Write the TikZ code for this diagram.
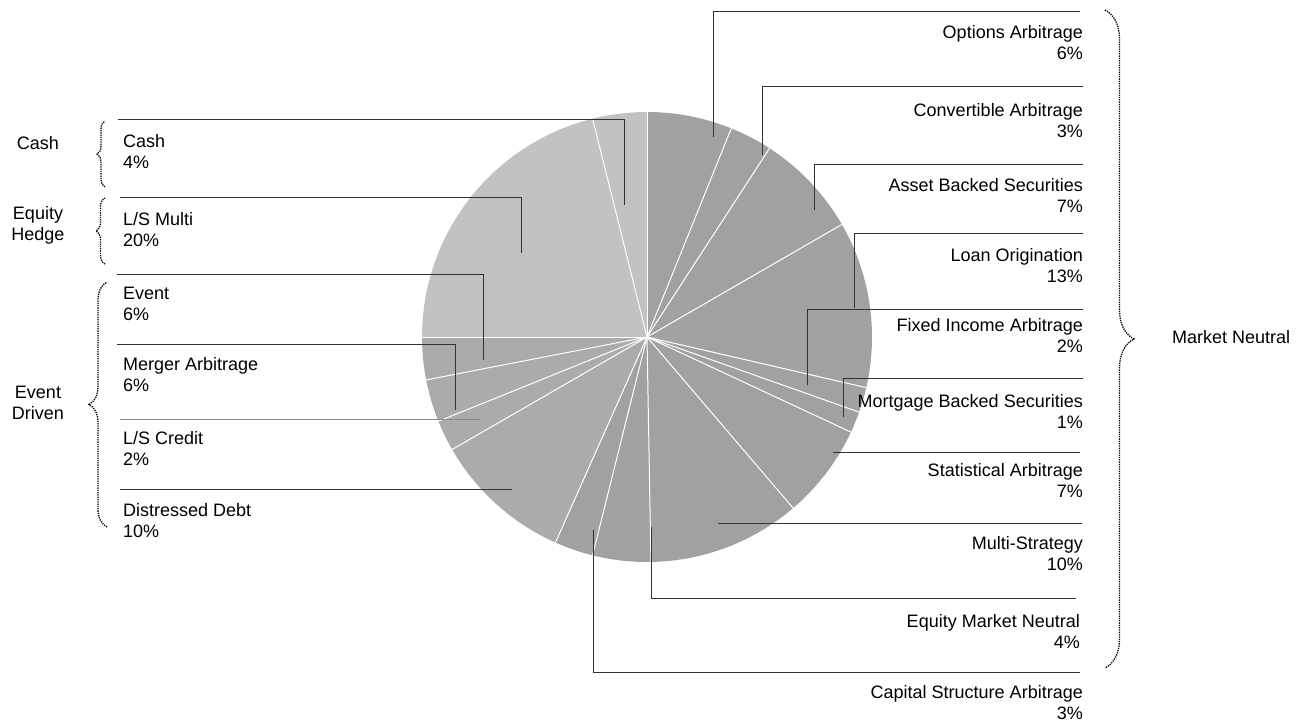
\documentclass[tikz,border=0pt]{standalone}
\usepackage{fontspec}
\setmainfont{Liberation Sans}
\usetikzlibrary{decorations.pathreplacing,calc}
\begin{document}
\begin{tikzpicture}[x=1pt,y=-1pt,
  lbl/.style={font=\fontsize{18}{21}\selectfont, inner sep=0pt},
  lft/.style={lbl, anchor=north west, align=left},
  rgt/.style={lbl, anchor=north east, align=right},
  grp/.style={lbl, align=center},
  leader/.style={draw=black!80, line width=0.9pt},
  leaderlight/.style={draw=black!45, line width=0.9pt},
  sep/.style={draw=white, line width=1pt},
  mn/.style={fill=black!37},
  ed/.style={fill=black!33},
  eh/.style={fill=black!24},
  brc/.style={decorate, decoration={brace, amplitude=#1}, draw=black, line width=1.3pt, densely dotted},
]
\useasboundingbox (0,0) rectangle (1313,722);
\coordinate (O) at (647,337);
\def\R{225}
% pie slices: clockwise angle from top
\foreach \a/\b/\s in {0/22/mn, 22/33/mn, 33/60/mn, 60/103/mn, 103/109.5/mn, 109.5/115/mn, 115/139.5/mn, 139.5/179/mn, 179/194/mn, 194/204/mn, 204/240/ed, 240/248/ed, 248/259/ed, 259/270/ed, 270/346/eh, 346/360/eh}{
  \fill[\s] (O) -- ($(O)+(\a-90:\R)$) arc[start angle=\a-90, end angle=\b-90, radius=\R] -- cycle;
}
\foreach \a in {0,22,33,60,103,109.5,115,139.5,179,194,204,240,248,259,270,346}{
  \draw[sep] (O) -- ($(O)+(\a-90:\R)$);
}
% group labels
\node[grp] (gCash) at (38,143) {Cash};
\node[grp] (gEH) at (38,225) {Equity\\Hedge};
\node[grp] (gED) at (38,403) {Event\\Driven};
\node[lbl, anchor=west] (gMN) at (1172,337) {Market Neutral};
% braces
\coordinate (bC1) at (105,187); \coordinate (bC2) at (105,121);
\coordinate (bE1) at (105,264); \coordinate (bE2) at (105,198);
\coordinate (bD1) at (107,527); \coordinate (bD2) at (107,282);
\coordinate (bM1) at (1105,10); \coordinate (bM2) at (1105,668);
\draw[brc=8] (bC1) -- (bC2);
\draw[brc=9] (bE1) -- (bE2);
\draw[brc=18] (bD1) -- (bD2);
\draw[brc=29] (bM1) -- (bM2);
% left labels
\node[lft] (cash) at (123,134) {Cash\\4\%};
\node[lft] (lsm) at (123,212.5) {L/S Multi\\20\%};
\node[lft] (event) at (123,286.5) {Event\\6\%};
\node[lft] (merger) at (123,357) {Merger Arbitrage\\6\%};
\node[lft] (lsc) at (123,431.5) {L/S Credit\\2\%};
\node[lft] (dd) at (123,503.5) {Distressed Debt\\10\%};
% right labels
\node[rgt] (opt) at (1083,25.5) {Options Arbitrage\\6\%};
\node[rgt] (conv) at (1083,103.5) {Convertible Arbitrage\\3\%};
\node[rgt] (abs) at (1083,178.5) {Asset Backed Securities\\7\%};
\node[rgt] (loan) at (1083,248.5) {Loan Origination\\13\%};
\node[rgt] (fia) at (1083,318.5) {Fixed Income Arbitrage\\2\%};
\node[rgt] (mbs) at (1083,394) {Mortgage Backed Securities\\1\%};
\node[rgt] (stat) at (1083,463.5) {Statistical Arbitrage\\7\%};
\node[rgt] (multi) at (1083,536) {Multi-Strategy\\10\%};
\node[rgt] (emn) at (1080,614) {Equity Market Neutral\\4\%};
\node[rgt] (csa) at (1083,685.5) {Capital Structure Arbitrage\\3\%};
% left leaders
\coordinate (cashA) at (118,119); \coordinate (cashB) at (624,119); \coordinate (cashC) at (624,205);
\coordinate (lsmA) at (120,197); \coordinate (lsmB) at (521,197); \coordinate (lsmC) at (521,253);
\coordinate (evA) at (117,274); \coordinate (evB) at (483,274); \coordinate (evC) at (483,360);
\coordinate (meA) at (117,344); \coordinate (meB) at (455,344); \coordinate (meC) at (455,410);
\coordinate (lscA) at (120,419); \coordinate (lscB) at (480,419);
\coordinate (ddA) at (120,489); \coordinate (ddB) at (512,489);
\draw[leader] (cashA) -- (cashB) -- (cashC);
\draw[leader] (lsmA) -- (lsmB) -- (lsmC);
\draw[leader] (evA) -- (evB) -- (evC);
\draw[leader] (meA) -- (meB) -- (meC);
\draw[leaderlight] (lscA) -- (lscB);
\draw[leader] (ddA) -- (ddB);
% right leaders
\coordinate (opA) at (1080,11); \coordinate (opB) at (713,11); \coordinate (opC) at (713,137);
\coordinate (cvA) at (1083,86); \coordinate (cvB) at (762,86); \coordinate (cvC) at (762,155);
\coordinate (abA) at (1083,164); \coordinate (abB) at (814,164); \coordinate (abC) at (814,210);
\coordinate (loA) at (1083,233); \coordinate (loB) at (854,233); \coordinate (loC) at (854,308);
\coordinate (fiA) at (1083,309); \coordinate (fiB) at (807,309); \coordinate (fiC) at (807,385);
\coordinate (mbA) at (1083,378); \coordinate (mbB) at (843,378); \coordinate (mbC) at (843,417);
\coordinate (stA) at (1080,452); \coordinate (stB) at (833,452);
\coordinate (muA) at (1082,523); \coordinate (muB) at (718,523);
\coordinate (emA) at (1076,598); \coordinate (emB) at (651,598); \coordinate (emC) at (651,527);
\coordinate (csA) at (1080,672); \coordinate (csB) at (593,672); \coordinate (csC) at (593,530);
\draw[leader] (opA) -- (opB) -- (opC);
\draw[leader] (cvA) -- (cvB) -- (cvC);
\draw[leader] (abA) -- (abB) -- (abC);
\draw[leader] (loA) -- (loB) -- (loC);
\draw[leader] (fiA) -- (fiB) -- (fiC);
\draw[leader] (mbA) -- (mbB) -- (mbC);
\draw[leader] (stA) -- (stB);
\draw[leader] (muA) -- (muB);
\draw[leader] (emA) -- (emB) -- (emC);
\draw[leader] (csA) -- (csB) -- (csC);
\end{tikzpicture}
\end{document}
